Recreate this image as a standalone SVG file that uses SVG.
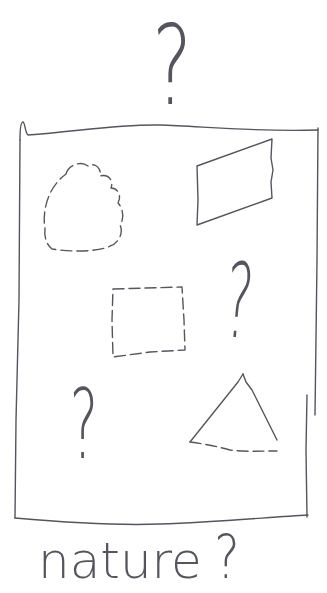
<svg xmlns="http://www.w3.org/2000/svg" width="327" height="593" viewBox="0 0 327 593">
<style>
.pen{fill:none;stroke:#55555e;stroke-width:1.4;stroke-linecap:round;stroke-linejoin:round}
.dash{stroke-dasharray:11 5}
.q{font-family:"DejaVu Sans",sans-serif;font-weight:200;fill:#55555e;text-anchor:middle}
</style>
<rect width="327" height="593" fill="#ffffff"/>
<g id="frame" class="pen">
<path d="M20,140 C20,130 21,122 23,122 C25,122 25,133 28,135 C80,131 120,124 160,125 C200,126 250,132 318,130"/>
<path d="M318,128 L317,260 L315,415"/>
<path d="M307,395 L306,450 L307,517"/>
<path d="M20,140 L19,300 L16,420 L15,518"/>
<path d="M15,518 C60,522 110,526 160,524 C220,522 270,517 308,515"/>
</g>
<g id="cloud" class="pen">
<path d="M66,174 C68,166 80,160 88,166 C94,162 102,168 100,176 C108,174 114,180 111,188 C118,188 122,196 118,203 C124,209 124,220 120,225 C124,233 118,244 110,246 C100,252 70,252 52,249 C46,244 44,236 45,228 C43,218 45,205 49,196 C52,188 58,180 66,174" class="pen dash"/>
</g>
<g id="parallelogram" class="pen">
<path d="M197,166 L272,139 L271,158 L273,170 L271,182 L272,198 L197,225 L198,200 L197,166"/>
</g>
<g id="square" class="pen">
<path d="M113,289 L182,287 L184,320 L185,350 L150,352 L113,357 L112,320 Z" class="pen dash"/>
</g>
<g id="triangle" class="pen">
<path d="M243,374 L246,382 L252,390 L262,410 L277,440"/>
<path d="M243,374 L238,382 L190,442"/>
<path d="M190,442 C205,444 215,446 230,450 C245,452 260,451 277,451" class="pen dash"/>
</g>
<g id="marks">
<text class="q" font-size="110" transform="translate(172,104) scale(0.68,1)">?</text>
<text class="q" font-size="103" transform="translate(236,337) scale(0.5,1) skewX(-10)">?</text>
<text class="q" font-size="97" transform="translate(84,458) scale(0.55,1)">?</text>
</g>
<g id="caption">
<text x="38" y="578" font-family="DejaVu Sans, sans-serif" font-weight="200" font-size="50" fill="#55555e">nature</text>
<text class="q" font-size="60" transform="translate(227,578) scale(0.8,1)">?</text>
</g>
</svg>
